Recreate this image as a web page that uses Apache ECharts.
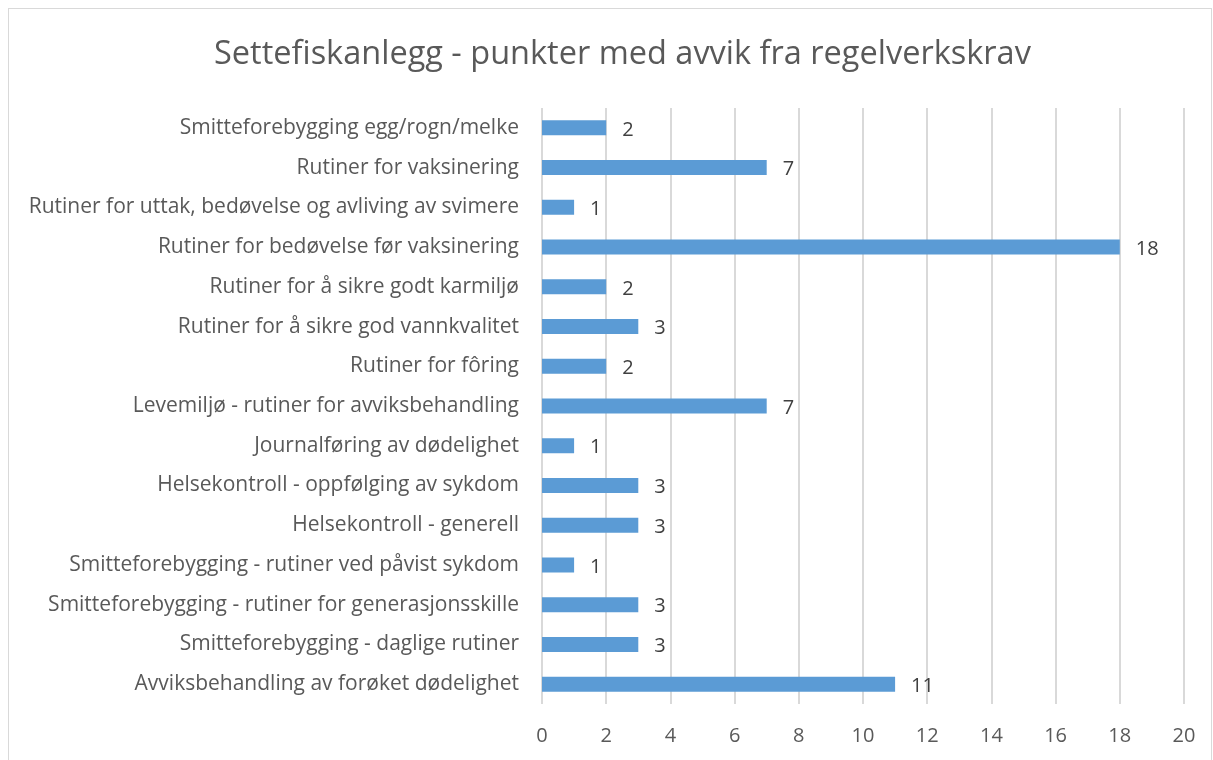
<!DOCTYPE html>
<html>
<head>
<meta charset="utf-8">
<script src="https://cdn.jsdelivr.net/npm/echarts@6/dist/echarts.min.js"></script>
<style>
  html, body { margin: 0; padding: 0; background: #fff; overflow: hidden; }
  #frame { position: absolute; left: 8px; top: 8px; width: 1204px; height: 770px; border: 1px solid #d9d9d9; box-sizing: border-box; }
  #chart { position: absolute; left: 0; top: 0; width: 1213px; height: 760px; }
</style>
</head>
<body>
<div id="frame"></div>
<div id="chart"></div>
<script>
const categories = [
  'Smitteforebygging egg/rogn/melke',
  'Rutiner for vaksinering',
  'Rutiner for uttak, bedøvelse og avliving av svimere',
  'Rutiner for bedøvelse før vaksinering',
  'Rutiner for å sikre godt karmiljø',
  'Rutiner for å sikre god vannkvalitet',
  'Rutiner for fôring',
  'Levemiljø - rutiner for avviksbehandling',
  'Journalføring av dødelighet',
  'Helsekontroll - oppfølging av sykdom',
  'Helsekontroll - generell',
  'Smitteforebygging - rutiner ved påvist sykdom',
  'Smitteforebygging - rutiner for generasjonsskille',
  'Smitteforebygging - daglige rutiner',
  'Avviksbehandling av forøket dødelighet'
]
const values = [2, 7, 1, 18, 2, 3, 2, 7, 1, 3, 3, 1, 3, 3, 11]
const xTicks = [0, 2, 4, 6, 8, 10, 12, 14, 16, 18, 20]

const font = '"Open Sans", "Noto Sans", sans-serif'
const chart = echarts.init(document.getElementById('chart'))
chart.setOption({
  animation: false,
  title: {
    text: 'Settefiskanlegg - punkter med avvik fra regelverkskrav',
    left: 209,
    top: 33,
    textStyle: { color: '#595959', fontSize: 32.5, fontWeight: 'normal', fontFamily: font }
  },
  grid: { left: 542, right: 29, top: 108, bottom: 56 },
  xAxis: {
    type: 'value',
    min: xTicks[0],
    max: xTicks[xTicks.length - 1],
    interval: 2,
    axisLine: { show: false },
    axisTick: { show: false },
    axisLabel: { color: '#595959', fontSize: 20, fontFamily: font, margin: 22 },
    splitLine: { lineStyle: { color: '#d9d9d9', width: 2 } }
  },
  yAxis: {
    type: 'category',
    inverse: true,
    data: categories,
    axisLine: { show: false },
    axisTick: { show: false },
    axisLabel: { color: '#595959', fontSize: 21, fontFamily: font, margin: 23 }
  },
  series: [{
    type: 'bar',
    data: values,
    barWidth: 15,
    itemStyle: { color: '#5b9bd5' },
    label: {
      show: true,
      position: 'right',
      distance: 16,
      offset: [0, 2],
      color: '#404040',
      fontSize: 20,
      fontFamily: font
    }
  }]
})
</script>
</body>
</html>
